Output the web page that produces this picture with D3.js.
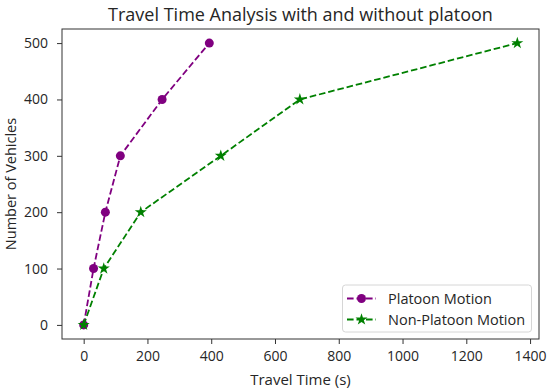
<!DOCTYPE html>
<html>
<head>
<meta charset="utf-8">
<script src="https://cdn.jsdelivr.net/npm/d3@7"></script>
<style>
  body { margin: 0; background: #fff; }
  text { font-family: "Open Sans", sans-serif; fill: #262626; }
</style>
</head>
<body>
<svg id="chart" width="550" height="388"></svg>
<script>
// chart data
var vehicles = [0, 100, 200, 300, 400, 500];
var platoonTime = [0, 31, 68, 115, 246, 394];
var nonPlatoonTime = [0, 63, 179, 430, 678, 1360];
var xTicks = [0, 200, 400, 600, 800, 1000, 1200, 1400];
var yTicks = [0, 100, 200, 300, 400, 500];

var svg = d3.select("#chart");
var plotLeft = 62, plotTop = 29, plotRight = 539, plotBottom = 339;

var x = d3.scaleLinear().domain([-68, 1428]).range([plotLeft, plotRight]);
var y = d3.scaleLinear().domain([-25, 525]).range([plotBottom, plotTop]);

// axes
svg.append("g")
    .attr("transform", "translate(0," + plotBottom + ")")
    .call(d3.axisBottom(x).tickValues(xTicks).tickFormat(d3.format("d")).tickSize(5).tickPadding(7))
    .call(function(g){ g.select(".domain").remove(); })
    .selectAll("text").style("font-size", "14px");

svg.append("g")
    .attr("transform", "translate(" + plotLeft + ",0)")
    .call(d3.axisLeft(y).tickValues(yTicks).tickFormat(d3.format("d")).tickSize(5).tickPadding(9))
    .call(function(g){ g.select(".domain").remove(); })
    .selectAll("text").style("font-size", "14px");

svg.selectAll(".tick line").attr("stroke", "#333").attr("stroke-width", 1);

// frame
svg.append("rect")
    .attr("x", plotLeft).attr("y", plotTop)
    .attr("width", plotRight - plotLeft).attr("height", plotBottom - plotTop)
    .attr("fill", "none").attr("stroke", "#333").attr("stroke-width", 1);

var series = [
    {name: "Platoon Motion", xs: platoonTime, color: "#800080", marker: "circle"},
    {name: "Non-Platoon Motion", xs: nonPlatoonTime, color: "#008000", marker: "star"}
];

var line = d3.line()
    .x(function(d){ return x(d[0]); })
    .y(function(d){ return y(d[1]); });

function drawMarker(g, s, cx, cy) {
    if (s.marker == "circle") {
        g.append("circle").attr("cx", cx).attr("cy", cy).attr("r", 4.5).attr("fill", s.color);
    } else {
        g.append("path")
            .attr("d", d3.symbol().type(d3.symbolStar).size(45)())
            .attr("transform", "translate(" + cx + "," + cy + ")")
            .attr("fill", s.color);
    }
}

series.forEach(function(s){
    var pts = s.xs.map(function(v, i){ return [v, vehicles[i]]; });
    svg.append("path")
        .attr("d", line(pts))
        .attr("fill", "none")
        .attr("stroke", s.color)
        .attr("stroke-width", 1.8)
        .attr("stroke-dasharray", "6.6,2.9");
    var mg = svg.append("g");
    pts.forEach(function(p){ drawMarker(mg, s, x(p[0]), y(p[1])); });
});

// legend
var lg = svg.append("g");
lg.append("rect")
    .attr("x", 342.5).attr("y", 285).attr("width", 189).attr("height", 47)
    .attr("rx", 3).attr("fill", "#fff").attr("fill-opacity", 0.8)
    .attr("stroke", "#d6d6d6");
series.forEach(function(s, i){
    var ly = 298.5 + i * 21;
    lg.append("line")
        .attr("x1", 347).attr("x2", 376).attr("y1", ly).attr("y2", ly)
        .attr("stroke", s.color).attr("stroke-width", 1.8)
        .attr("stroke-dasharray", "6.6,2.9");
    drawMarker(lg, s, 361.5, ly);
    lg.append("text")
        .attr("x", 388).attr("y", ly + 5.5)
        .style("font-size", "14.5px")
        .text(s.name);
});

// titles
svg.append("text")
    .attr("x", (plotLeft + plotRight) / 2).attr("y", 21)
    .attr("text-anchor", "middle")
    .style("font-size", "18px")
    .text("Travel Time Analysis with and without platoon");

svg.append("text")
    .attr("x", (plotLeft + plotRight) / 2).attr("y", 384.5)
    .attr("text-anchor", "middle")
    .style("font-size", "15px")
    .text("Travel Time (s)");

svg.append("text")
    .attr("transform", "translate(16," + ((plotTop + plotBottom) / 2) + ") rotate(-90)")
    .attr("text-anchor", "middle")
    .style("font-size", "14.5px")
    .text("Number of Vehicles");
</script>
</body>
</html>
